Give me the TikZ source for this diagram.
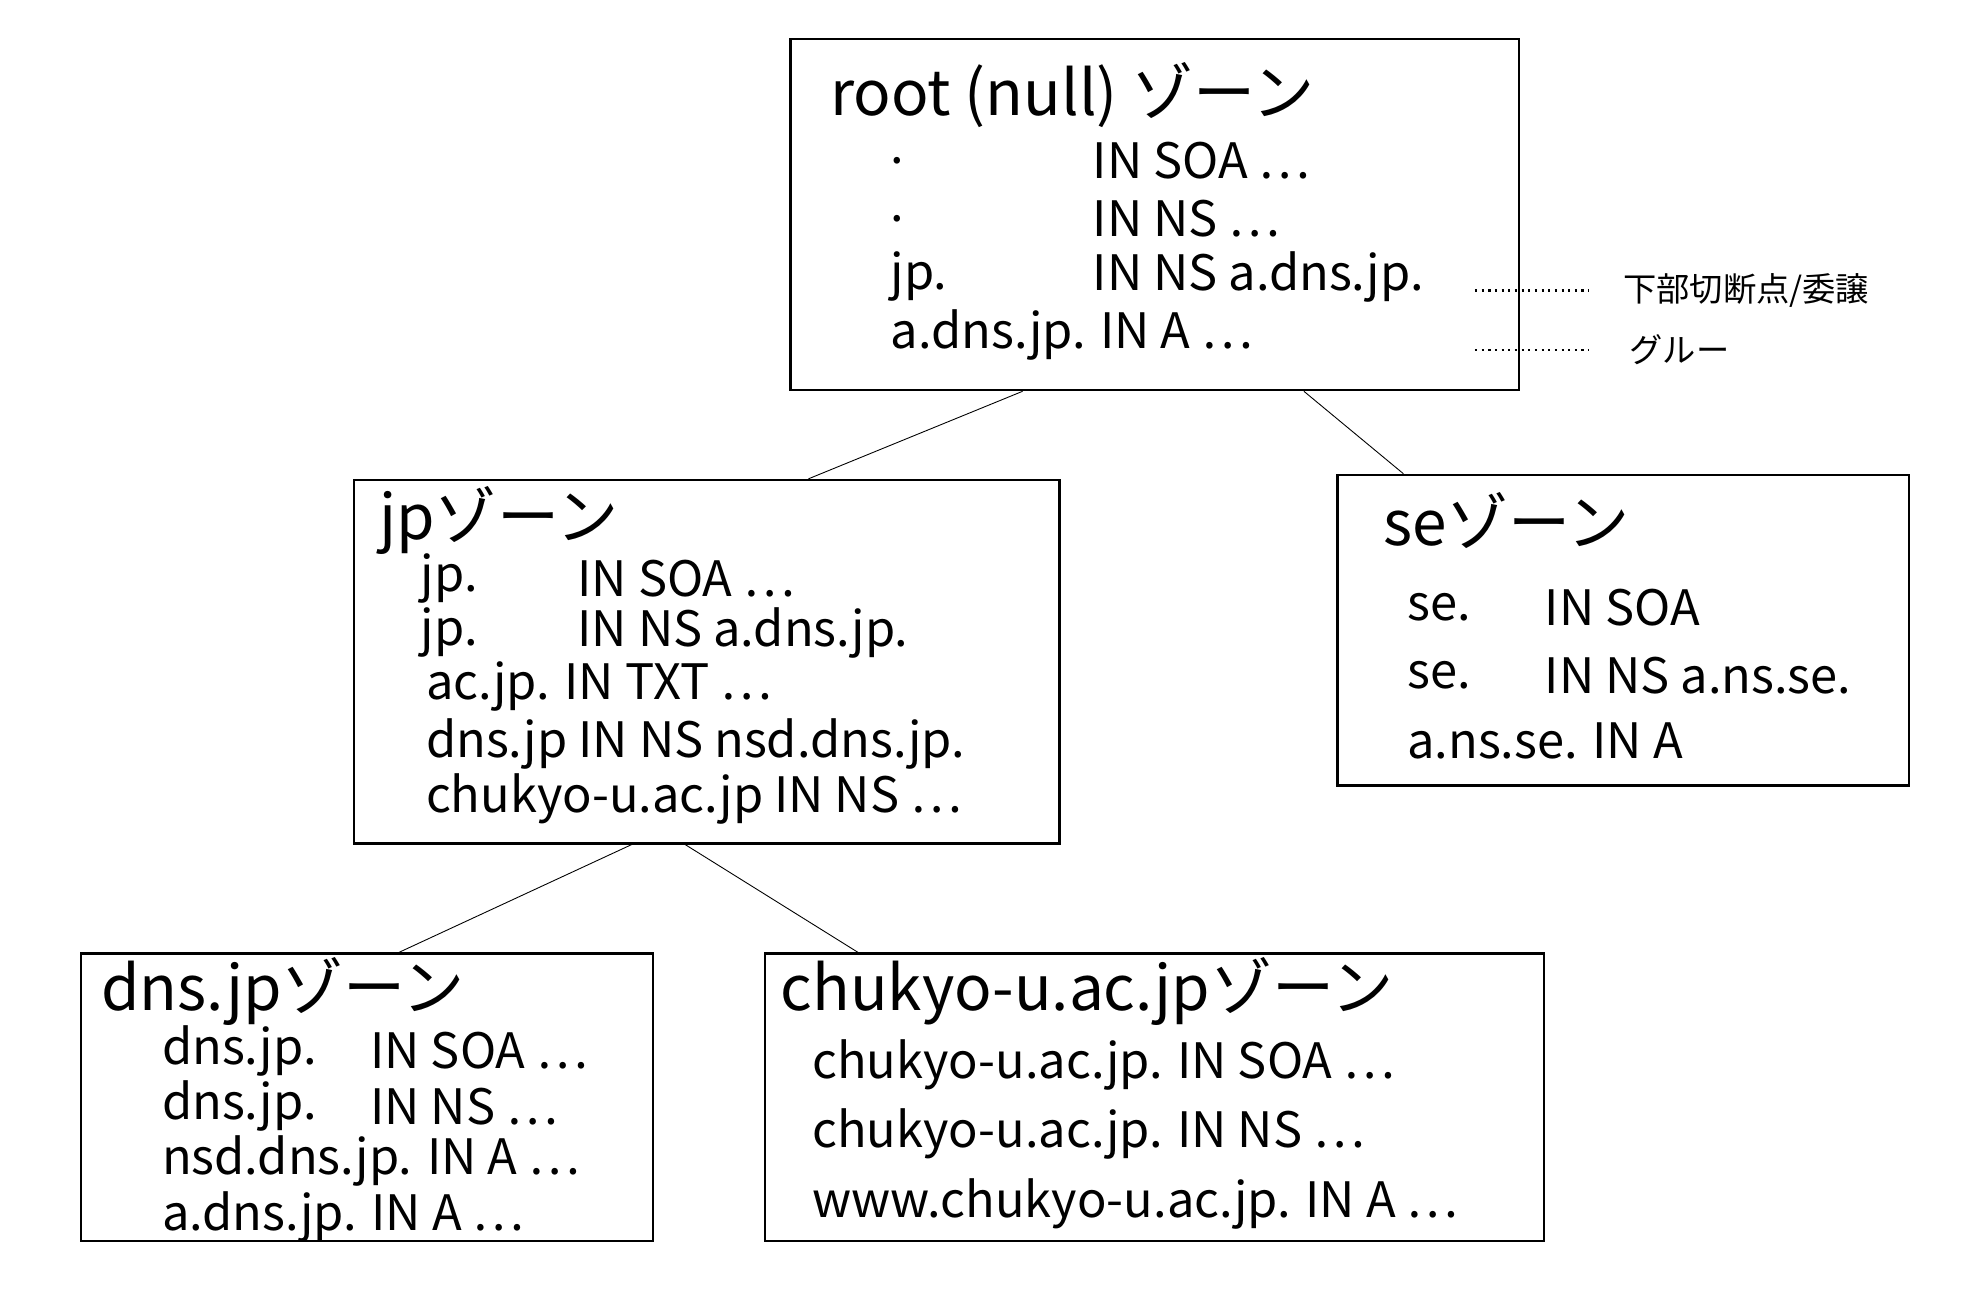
\documentclass[tikz,border=0pt]{standalone}
\usepackage{fontspec}
\setmainfont{Noto Sans CJK JP}
\usetikzlibrary{calc}

\begin{document}
\begin{tikzpicture}[x=0.02cm,y=-0.02cm]
	\tikzstyle{zone}=[draw,line width=1pt,inner sep=0pt]
	\tikzstyle{rec}=[anchor=west,inner sep=0pt,font=\fontsize{22}{22}\selectfont]
	\tikzstyle{ttl}=[anchor=west,inner sep=0pt,font=\fontsize{28}{28}\selectfont]
	\tikzstyle{note}=[anchor=west,inner sep=0pt,font=\fontsize{15}{15}\selectfont]
	\useasboundingbox (0,0) rectangle (1560,1036);

	% boxes
	\node[zone,minimum width=11.54cm,minimum height=5.56cm] (root) at (914.5,170) {};
	\node[zone,minimum width=11.18cm,minimum height=5.76cm] (jp) at (559.5,524) {};
	\node[zone,minimum width=9.06cm,minimum height=4.92cm] (se) at (1285.5,499) {};
	\node[zone,minimum width=9.06cm,minimum height=4.56cm] (dns) at (290.5,869) {};
	\node[zone,minimum width=12.34cm,minimum height=4.56cm] (chukyo) at (914.5,869) {};

	% root
	\node[ttl] (rt) at (657,75) {root (null) ゾーン};
	\node[rec] (r1) at (705,127) {.};
	\node[rec] (r1b) at (865,127) {IN SOA …};
	\node[rec] (r2) at (705,173) {.};
	\node[rec] (r2b) at (865,173) {IN NS …};
	\node[rec] (r3) at (705,219) {jp.};
	\node[rec] (r3b) at (865,219) {IN NS a.dns.jp.};
	\node[rec] (r4) at (705,265) {a.dns.jp. IN A …};

	% notes
	\coordinate (d1a) at (1168,230);
	\coordinate (d1b) at (1258,230);
	\coordinate (d2a) at (1168,277);
	\coordinate (d2b) at (1258,277);
	\draw[dotted,line width=1pt] (d1a) -- (d1b);
	\draw[dotted,line width=1pt] (d2a) -- (d2b);
	\node[note] (n1) at (1285,230) {下部切断点/委譲};
	\node[note] (n2) at (1290,277) {グルー};

	% jp
	\node[ttl] (jt) at (300,412) {jpゾーン};
	\node[rec] (j1) at (333,458) {jp.};
	\node[rec] (j1b) at (457,458) {IN SOA …};
	\node[rec] (j2) at (333,501) {jp.};
	\node[rec] (j2b) at (457,501) {IN NS a.dns.jp.};
	\node[rec] (j3) at (337,544) {ac.jp. IN TXT …};
	\node[rec] (j4) at (337,589) {dns.jp IN NS nsd.dns.jp.};
	\node[rec] (j5) at (337,633) {chukyo-u.ac.jp IN NS …};

	% se
	\node[ttl] (st) at (1095,412) {seゾーン};
	\node[rec] (s1) at (1114,481) {se.};
	\node[rec] (s1b) at (1223,481) {IN SOA};
	\node[rec] (s2) at (1114,535) {se.};
	\node[rec] (s2b) at (1223,535) {IN NS a.ns.se.};
	\node[rec] (s3) at (1114,587) {a.ns.se. IN A};

	% dns.jp
	\node[ttl] (dt) at (80,785) {dns.jpゾーン};
	\node[rec] (d1) at (128,832) {dns.jp.};
	\node[rec] (d1c) at (293,832) {IN SOA …};
	\node[rec] (d2) at (128,876) {dns.jp.};
	\node[rec] (d2c) at (293,876) {IN NS …};
	\node[rec] (d3) at (128,919) {nsd.dns.jp. IN A …};
	\node[rec] (d4) at (128,964) {a.dns.jp. IN A …};

	% chukyo-u.ac.jp
	\node[ttl] (ct) at (618,785) {chukyo-u.ac.jpゾーン};
	\node[rec] (c1) at (643,843) {chukyo-u.ac.jp. IN SOA …};
	\node[rec] (c2) at (643,898) {chukyo-u.ac.jp. IN NS …};
	\node[rec] (c3) at (643,953) {www.chukyo-u.ac.jp. IN A …};

	% tree
	\draw ($(root.south west)!0.319!(root.south east)$) -- ($(jp.north west)!0.644!(jp.north east)$);
	\draw ($(root.south west)!0.704!(root.south east)$) -- ($(se.north west)!0.117!(se.north east)$);
	\draw ($(jp.south west)!0.394!(jp.south east)$) -- ($(dns.north west)!0.556!(dns.north east)$);
	\draw ($(jp.south west)!0.470!(jp.south east)$) -- ($(chukyo.north west)!0.120!(chukyo.north east)$);
\end{tikzpicture}
\end{document}
